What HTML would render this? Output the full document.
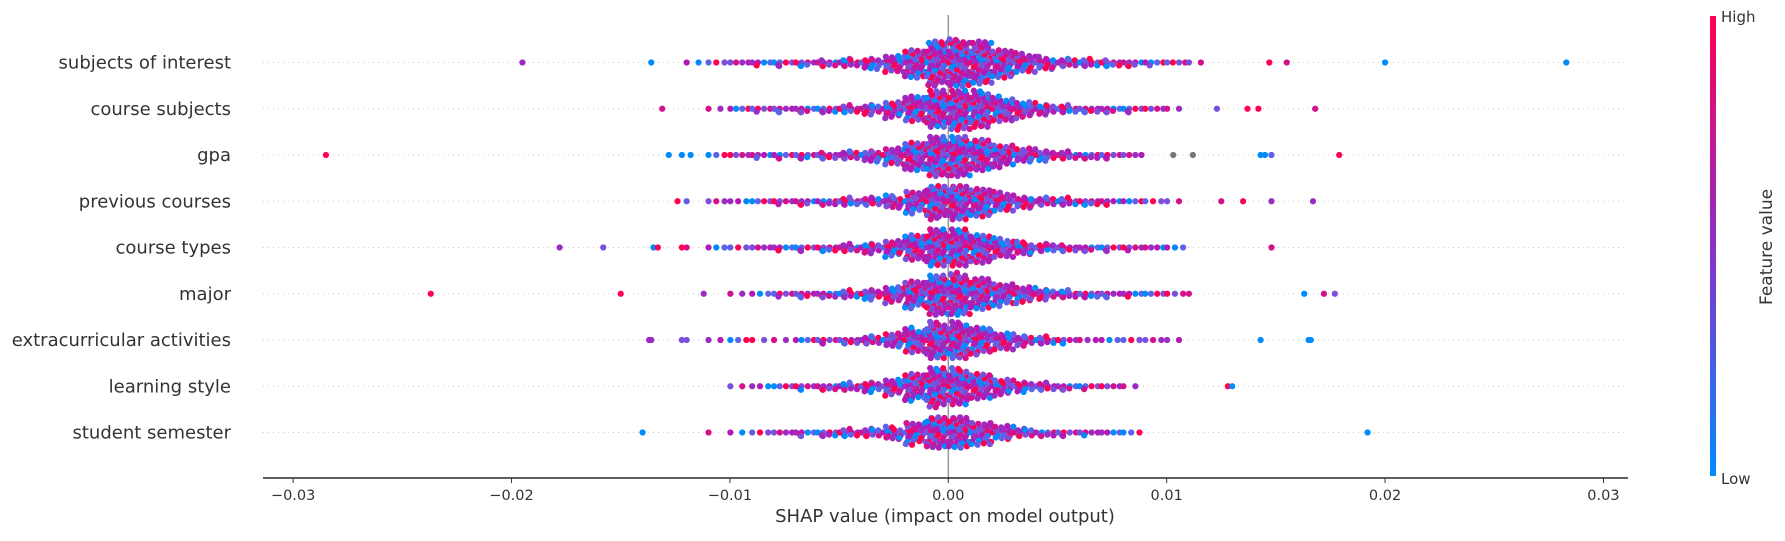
<!DOCTYPE html>
<html><head><meta charset="utf-8"><style>
body{margin:0;background:#fff;width:1785px;height:536px;overflow:hidden}
svg text{font-family:"DejaVu Sans","Liberation Sans",sans-serif}
</style></head><body>
<svg id="chart" width="1785" height="536" xmlns="http://www.w3.org/2000/svg">
<defs><linearGradient id="cb" x1="0" y1="1" x2="0" y2="0">
<stop offset="0" stop-color="#008bfb"/><stop offset="0.5" stop-color="#8b2fc9"/><stop offset="1" stop-color="#ff0052"/></linearGradient></defs>
<g id="grid"></g><g id="dots"></g><g id="axes"></g>
<rect x="1710" y="16" width="6" height="460" fill="url(#cb)"/>
<text x="1721" y="22" font-size="15" fill="#333">High</text>
<text x="1721" y="484" font-size="15" fill="#333">Low</text>
<text transform="translate(1772,247) rotate(-90)" text-anchor="middle" font-size="17" fill="#333">Feature value</text>
<text x="945" y="522" text-anchor="middle" font-size="18" fill="#333">SHAP value (impact on model output)</text>
</svg>
<script>
const features=["subjects of interest","course subjects","gpa","previous courses","course types","major","extracurricular activities","learning style","student semester"];
const binStart=-0.015, binWidth=0.001;
const counts=[
[0,0,0,2,3,4,5,6,7,9,11,15,24,40,62,66,60,40,26,17,12,10,9,7,5,4,2,0,0,0],
[0,0,0,0,2,4,5,6,7,8,10,14,22,36,52,56,50,34,22,14,10,8,7,6,4,2,0,0,0,0],
[0,0,0,0,3,4,5,6,7,9,12,16,24,40,56,56,44,30,20,14,10,8,6,4,0,0,0,0,0,0],
[0,0,0,1,3,3,4,5,7,8,10,12,18,30,46,48,40,26,16,12,10,8,6,4,3,2,0,0,0,0],
[0,0,0,1,3,3,4,5,6,8,10,14,22,36,52,52,40,26,18,12,9,7,6,5,4,3,0,0,0,0],
[0,0,0,0,0,2,3,5,7,8,10,14,22,38,56,58,44,30,22,14,10,8,6,5,4,3,1,0,0,0],
[0,0,0,1,2,3,2,2,4,6,8,12,20,34,50,50,38,24,14,10,6,3,3,3,3,2,0,0,0,0],
[0,0,0,0,0,2,3,4,6,8,10,14,22,38,54,50,36,22,14,10,7,5,4,2,0,0,0,0,0,0],
[0,0,0,0,1,2,3,4,6,8,10,12,18,30,44,44,32,20,12,8,6,5,4,3,0,0,0,0,0,0]];
const outliers=[
[-0.0195,-0.0136,0.0147,0.0155,0.0200,0.0283],
[-0.0131,0.0123,0.0137,0.0142,0.0168],
[-0.0285,-0.0128,-0.0122,-0.0118,0.0103,0.0112,0.0143,0.0145,0.0148,0.0179],
[-0.0124,0.0125,0.0135,0.0148,0.0167],
[-0.0178,-0.0158,-0.0135,-0.0133,-0.0122,0.0148],
[-0.0237,-0.0150,-0.0112,0.0163,0.0172,0.0177],
[-0.0137,-0.0136,-0.0122,0.0143,0.0165,0.0166],
[0.0128,0.0130],
[-0.0140,0.0192]];
const outlierColors=[
["#9c2bc4","#008bfb","#ff0052","#d4108a","#008bfb","#008bfb"],
["#d4108a","#7a4fdc","#ff0052","#ff0052","#d4108a"],
["#ff0052","#008bfb","#008bfb","#008bfb","#777777","#777777","#008bfb","#008bfb","#5e62e8","#ff0052"],
["#ff0052","#d4108a","#ff0052","#9c2bc4","#9c2bc4"],
["#9c2bc4","#7a4fdc","#008bfb","#ff0052","#ff0052","#d4108a"],
["#ff0052","#ff0052","#9c2bc4","#008bfb","#d4108a","#7a4fdc"],
["#9c2bc4","#9c2bc4","#7a4fdc","#008bfb","#008bfb","#008bfb"],
["#ff0052","#008bfb"],
["#008bfb","#008bfb"]];
const palette=["#008bfb","#7a4fdc","#b31ab5","#ff0052","#9c2bc4","#5e62e8","#d4108a"];
const ticks=[-0.03,-0.02,-0.01,0,0.01,0.02,0.03];
const tickLabels=["\u22120.03","\u22120.02","\u22120.01","0.00","0.01","0.02","0.03"];

const NS="http://www.w3.org/2000/svg";
const X0=948.3, XS=21838, Y0=62.5, YS=46.25, L=263, R=1628, AX=478;
const xs=v=>X0+v*XS, ys=i=>Y0+i*YS;
function mk(tag,attrs,parent){const e=document.createElementNS(NS,tag);for(const k in attrs)e.setAttribute(k,attrs[k]);parent.appendChild(e);return e;}
const grid=document.getElementById('grid'),dots=document.getElementById('dots'),axes=document.getElementById('axes');
features.forEach((f,i)=>{
  const y=ys(i);
  const g=mk('line',{x1:L,x2:R,y1:y,y2:y,stroke:'#ccc','stroke-width':1,'stroke-dasharray':'1 4'},grid);
  
  
  const t=mk('text',{x:231,y:y+6,'text-anchor':'end','font-size':18,fill:'#333'},axes);
  t.textContent=f;
  
  
});
const zl=mk('line',{x1:X0,x2:X0,y1:15,y2:AX,stroke:'#999','stroke-width':1.5},grid);


counts.forEach((row,i)=>{
  const yc=ys(i);
  row.forEach((n,j)=>{
    if(!n)return;
    const start=binStart+j*binWidth;
    const cols=Math.min(n,4);
    for(let k=0;k<n;k++){
      const col=k%cols, r=Math.floor(k/cols);
      let frac=(col+0.5)/cols+((r*0.37+k*0.13)%1-0.5)/cols;
      frac=Math.max(0.02,Math.min(0.98,frac));
      const v=start+frac*binWidth;
      const off=r===0?0:(r%2?1:-1)*Math.ceil(r/2)*2.9+((k*7)%3-1)*0.7;
      const c=mk('circle',{cx:xs(v),cy:yc+off,r:3.1,fill:palette[(k*5+j*3+i)%7]},dots);
      
      
    }
  });
  outliers[i].forEach((v,k)=>{
    const c=mk('circle',{cx:xs(v),cy:yc,r:3.1,fill:outlierColors[i][k]||palette[k%7]},dots);
    
    
  });
});
const al=mk('line',{x1:L,x2:R,y1:AX,y2:AX,stroke:'#000','stroke-width':1.3},axes);


ticks.forEach((v,k)=>{
  const tk=mk('line',{x1:xs(v),x2:xs(v),y1:AX,y2:AX+5,stroke:'#333','stroke-width':1},axes);
  
  
  const tl=mk('text',{x:xs(v),y:AX+22,'text-anchor':'middle','font-size':14.5,fill:'#333'},axes);
  tl.textContent=tickLabels[k];
  
  
});
</script>
</body></html>
